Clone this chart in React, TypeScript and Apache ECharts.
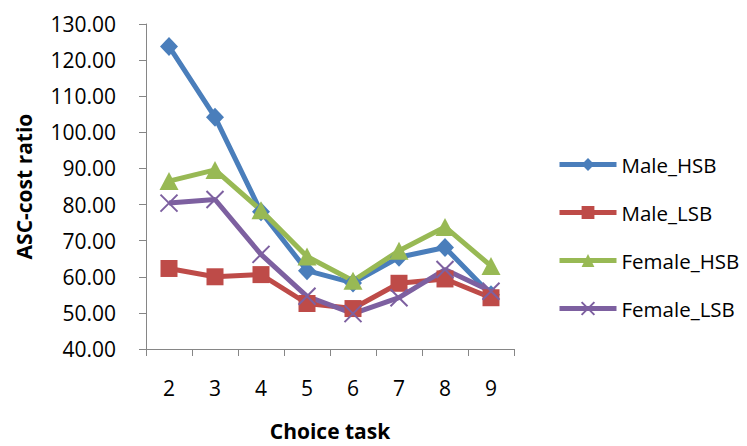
import React, { useEffect, useRef } from "react";
import * as echarts from "echarts";

const categories = ["2", "3", "4", "5", "6", "7", "8", "9"];
const maleHSB = [123.8, 104.2, 78.0, 61.7, 58.3, 65.4, 68.1, 55.0];
const maleLSB = [62.3, 60.0, 60.6, 52.6, 51.2, 58.2, 59.4, 54.2];
const femaleHSB = [86.5, 89.6, 78.4, 65.6, 58.9, 67.2, 73.8, 63.0];
const femaleLSB = [80.4, 81.4, 66.2, 54.6, 49.8, 54.2, 62.0, 56.0];
const seriesNames = ["Male_HSB", "Male_LSB", "Female_HSB", "Female_LSB"];

const FONT = "Open Sans";

export default function App() {
  const ref = useRef<HTMLDivElement>(null);
  useEffect(() => {
    document.body.style.margin = "0";
    if (!ref.current) return;
    const chart = echarts.init(ref.current, null, { renderer: "svg" });
    const mk = (name: string, data: number[], color: string, symbol: string, size: any, extra: any = {}) => ({
      name,
      type: "line",
      data,
      symbol,
      symbolSize: size,
      lineStyle: { color, width: 5 },
      itemStyle: { color, ...extra },
      emphasis: { disabled: true },
      z: 2,
    });
    chart.setOption({
      animation: false,
      grid: { left: 146, right: 233, top: 24, bottom: 86, containLabel: false },
      legend: {
        orient: "vertical",
        left: 552,
        top: 149,
        itemWidth: 57,
        itemHeight: 16,
        itemGap: 27,
        lineStyle: { width: 5 },
        textStyle: { fontFamily: FONT, fontSize: 20.5, color: "#000" },
        data: seriesNames,
      },
      xAxis: {
        type: "category",
        data: categories,
        boundaryGap: true,
        name: "Choice task",
        nameLocation: "middle",
        nameGap: 71,
        nameTextStyle: { fontFamily: FONT, fontSize: 21, fontWeight: "bold", color: "#000" },
        axisLine: { lineStyle: { color: "#868686", width: 1 } },
        axisTick: { show: true, alignWithLabel: false, length: 7, lineStyle: { color: "#868686" } },
        axisLabel: { fontFamily: FONT, fontSize: 21, color: "#000", margin: 28 },
        splitLine: { show: false },
      },
      yAxis: {
        type: "value",
        min: 40,
        max: 130,
        interval: 10,
        name: "ASC-cost ratio",
        nameLocation: "middle",
        nameGap: 112,
        nameRotate: 90,
        nameTextStyle: { fontFamily: FONT, fontSize: 21, fontWeight: "bold", color: "#000" },
        axisLine: { show: true, lineStyle: { color: "#868686", width: 1 } },
        axisTick: { show: true, length: 7, lineStyle: { color: "#868686" } },
        axisLabel: {
          fontFamily: FONT,
          fontSize: 21,
          color: "#000",
          margin: 30,
          formatter: (v: number) => v.toFixed(2),
        },
        splitLine: { show: false },
      },
      series: [
        mk(seriesNames[0], maleHSB, "#4A7EBB", "diamond", [18, 19]),
        mk(seriesNames[1], maleLSB, "#BE4B48", "rect", [17, 17]),
        mk(seriesNames[2], femaleHSB, "#98B954", "triangle", [19, 18]),
        mk(seriesNames[3], femaleLSB, "#7D60A0", "path://M0,0L10,10M10,0L0,10", [17, 17], {
          borderColor: "#7D60A0",
          borderWidth: 2,
        }),
      ],
    });
    return () => chart.dispose();
  }, []);
  return <div ref={ref} style={{ width: 747, height: 446 }} />;
}
